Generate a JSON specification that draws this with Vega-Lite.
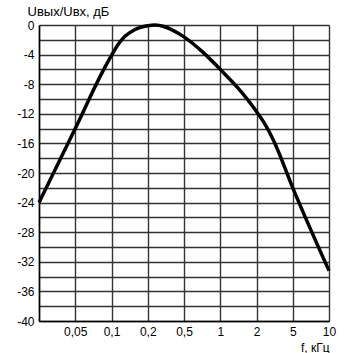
{
  "$schema": "https://vega.github.io/schema/vega-lite/v6.json",
  "width": 290,
  "height": 296,
  "autosize": {"type": "none"},
  "padding": {"left": 39, "top": 25, "right": 15, "bottom": 32},
  "background": "white",
  "config": {
    "view": {"stroke": null},
    "font": "Liberation Sans",
    "axis": {"labelFont": "Liberation Sans", "titleFont": "Liberation Sans", "labelColor": "#000", "titleColor": "#000"}
  },
  "data": {"values": [
    {"f": 0.02, "db": -24},
    {"f": 0.05, "db": -14},
    {"f": 0.085, "db": -6.2},
    {"f": 0.1, "db": -4.1},
    {"f": 0.115, "db": -2.5},
    {"f": 0.13, "db": -1.5},
    {"f": 0.157, "db": -0.6},
    {"f": 0.2, "db": -0.1},
    {"f": 0.24, "db": 0},
    {"f": 0.3, "db": -0.2},
    {"f": 0.369, "db": -0.65},
    {"f": 0.5, "db": -1.6},
    {"f": 0.72, "db": -3.7},
    {"f": 1, "db": -6},
    {"f": 1.4, "db": -8.5},
    {"f": 2, "db": -11.7},
    {"f": 2.5, "db": -13.5},
    {"f": 3.05, "db": -15.5},
    {"f": 5, "db": -22},
    {"f": 10, "db": -33.2}
  ]},
  "mark": {"type": "line", "color": "#000", "strokeWidth": 3.5, "interpolate": "monotone", "clip": false},
  "encoding": {
    "x": {
      "field": "f", "type": "quantitative",
      "scale": {"type": "log", "domain": [0.02, 0.05, 0.1, 0.2, 0.5, 1, 2, 5, 10], "range": [0, 36.25, 72.5, 108.75, 145, 181.25, 217.5, 253.75, 290]},
      "axis": {
        "values": [0.02, 0.05, 0.1, 0.2, 0.5, 1, 2, 5, 10],
        "labelExpr": "datum.value == 0.02 ? '' : replace(toString(datum.value), '.', ',')",
        "grid": true, "gridColor": "#333", "gridWidth": 1.4,
        "domainColor": "#000", "domainWidth": 1.5,
        "ticks": false, "labelPadding": 5, "labelFontSize": 12,
        "labelFlush": false,
        "title": "f, кГц", "titleFontSize": 12, "titleFontWeight": "normal",
        "titleAnchor": "end", "titleAlign": "right", "titleX": 290, "titleY": 30, "titleBaseline": "alphabetic"
      }
    },
    "y": {
      "field": "db", "type": "quantitative",
      "scale": {"domain": [-40, 0], "nice": false, "zero": false},
      "axis": {
        "values": [0, -2, -4, -6, -8, -10, -12, -14, -16, -18, -20, -22, -24, -26, -28, -30, -32, -34, -36, -38, -40],
        "labelExpr": "datum.value % 4 == 0 ? toString(datum.value) : ''",
        "grid": true, "gridColor": "#333", "gridWidth": 1.4,
        "domainColor": "#000", "domainWidth": 1.5,
        "ticks": false, "labelPadding": 5, "labelFontSize": 12,
        "title": "Uвых/Uвх, дБ", "titleFontSize": 13, "titleFontWeight": "normal",
        "titleAngle": 0, "titleAlign": "left", "titleAnchor": "start", "titleX": -12, "titleY": -10, "titleBaseline": "alphabetic"
      }
    }
  }
}
